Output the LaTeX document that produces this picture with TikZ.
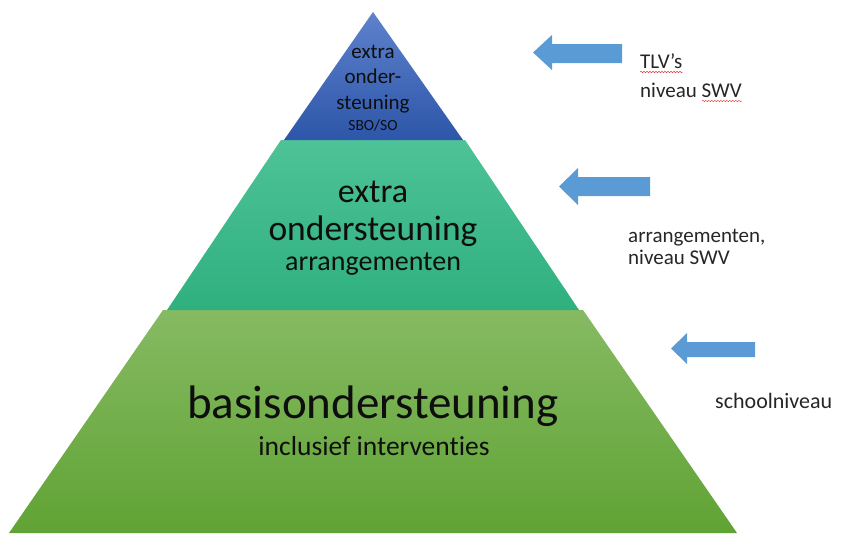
\documentclass[tikz,border=0pt]{standalone}
\usepackage{fontspec}
\setmainfont{Carlito}[Ligatures={NoCommon,NoDiscretionary,NoRare}]
\usetikzlibrary{decorations.pathmorphing}
\definecolor{blueTop}{HTML}{5E82CC}
\definecolor{blueBot}{HTML}{2D56A9}
\definecolor{tealTop}{HTML}{4EC298}
\definecolor{tealBot}{HTML}{2FB07F}
\definecolor{greenTop}{HTML}{86BA63}
\definecolor{greenBot}{HTML}{60A334}
\definecolor{arrowBlue}{HTML}{5B9BD5}
\definecolor{txt}{HTML}{0E0E0E}
\definecolor{sidetxt}{HTML}{262626}
\definecolor{spell}{HTML}{E04040}
\tikzset{
  lbl/.style={inner sep=0pt, anchor=base, text=txt},
  side/.style={inner sep=0pt, anchor=base west, text=sidetxt, font=\fontsize{21}{23}\selectfont},
  blockarrow/.style={fill=arrowBlue, draw=none},
  wavy/.style={draw=spell, line width=0.5pt, decorate, decoration={snake, amplitude=0.7pt, segment length=3pt}}
}
\newcommand{\myblockarrow}[7]{% tipx, y, headbase x, tail x, head half, body half, yshift of body
  \fill[blockarrow] (#1,#2) -- (#3,#2-#5) -- (#3,#2+#7-#6) -- (#4,#2+#7-#6) -- (#4,#2+#7+#6) -- (#3,#2+#7+#6) -- (#3,#2+#5) -- cycle;
}
\begin{document}
\begin{tikzpicture}[x=1pt,y=-1pt]
\useasboundingbox (0,0) rectangle (845,533);
% pyramid tiers
\shade[top color=greenTop, bottom color=greenBot] (163,310) -- (583,310) -- (737,533) -- (9,533) -- cycle;
\shade[top color=tealTop, bottom color=tealBot] (281,140) -- (465,140) -- (579,310) -- (167,310) -- cycle;
\shade[top color=blueTop, bottom color=blueBot] (373,12) -- (463,140) -- (284,140) -- cycle;
% top tier text
\node[lbl, font=\fontsize{21}{23}\selectfont] (t1) at (373,58) {extra};
\node[lbl, font=\fontsize{21}{23}\selectfont] (t2) at (373,83) {onder-};
\node[lbl, font=\fontsize{21}{23}\selectfont] (t3) at (373,109) {steuning};
\node[lbl, font=\fontsize{15.5}{17}\selectfont] (t4) at (373,130) {SBO/SO};
% middle tier text
\node[lbl, font=\fontsize{34}{36}\selectfont] (m1) at (373,202) {extra};
\node[lbl, font=\fontsize{35.5}{38}\selectfont] (m2) at (373,240) {ondersteuning};
\node[lbl, font=\fontsize{28}{30}\selectfont] (m3) at (373,270) {arrangementen};
% bottom tier text
\node[lbl, font=\fontsize{47}{50}\selectfont] (b1) at (373,418) {basisondersteuning};
\node[lbl, font=\fontsize{27.5}{30}\selectfont] (b2) at (374,455) {inclusief interventies};
% block arrows
\myblockarrow{533}{52.5}{552}{622}{17.5}{9.5}{1}
\myblockarrow{559}{186.5}{578}{650}{18.5}{9.5}{0}
\myblockarrow{671}{348.5}{687}{755}{15.5}{7.5}{1}
% side labels
\node[side] (s1) at (640,68) {TLV{\char"27}s};
\node[side] (s2) at (640,97) {niveau SWV};
\node[side] (s3) at (628,242) {arrangementen,};
\node[side] (s4) at (628,264) {niveau SWV};
\node[side, font=\fontsize{22}{24}\selectfont] (s5) at (715,408) {schoolniveau};
% spell-check underlines
\draw[wavy] (s1.base west) ++(0,4) -- (s1.base east |- 0,72);
\draw[wavy] (s2.base east) ++(-40,4) -- ++(40,0);
\end{tikzpicture}
\end{document}
